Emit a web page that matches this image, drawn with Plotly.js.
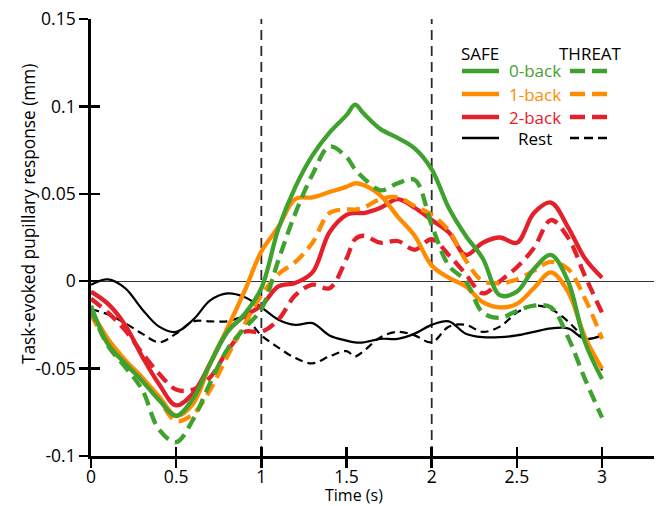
<!DOCTYPE html>
<html>
<head>
<meta charset="utf-8">
<script src="https://cdn.plot.ly/plotly-3.0.1.min.js"></script>
<style>html,body{margin:0;padding:0;background:#fff;}#chart{width:659px;height:506px;}</style>
</head>
<body>
<div id="chart"></div>
<script>
// ---- data ----
const time = [0,0.1,0.2,0.3,0.4,0.5,0.6,0.7,0.8,0.9,1.0,1.1,1.2,1.3,1.4,1.5,1.55,1.6,1.7,1.8,1.9,2.0,2.1,2.2,2.3,2.4,2.5,2.6,2.7,2.8,2.9,3.0];
const safe0back   = [-0.014,-0.036,-0.047,-0.057,-0.068,-0.077,-0.067,-0.047,-0.029,-0.019,-0.004,0.030,0.054,0.072,0.085,0.095,0.101,0.096,0.087,0.082,0.076,0.064,0.042,0.026,0.013,-0.008,-0.006,0.007,0.015,0.000,-0.035,-0.056];
const threat0back = [-0.016,-0.037,-0.049,-0.062,-0.085,-0.092,-0.079,-0.058,-0.039,-0.027,-0.016,0.012,0.039,0.061,0.077,0.071,0.064,0.059,0.052,0.056,0.058,0.032,0.009,0.000,-0.018,-0.021,-0.017,-0.014,-0.015,-0.032,-0.056,-0.078];
const safe1back   = [-0.017,-0.033,-0.045,-0.055,-0.066,-0.077,-0.070,-0.047,-0.027,-0.006,0.017,0.031,0.047,0.048,0.051,0.054,0.056,0.055,0.049,0.037,0.026,0.009,0.002,-0.003,-0.012,-0.015,-0.013,-0.004,0.005,-0.006,-0.032,-0.050];
const threat1back = [-0.019,-0.036,-0.047,-0.057,-0.068,-0.080,-0.076,-0.062,-0.043,-0.025,-0.008,0.004,0.011,0.022,0.039,0.041,0.041,0.042,0.047,0.048,0.043,0.038,0.029,0.012,0.000,-0.001,0.001,0.006,0.011,0.007,-0.010,-0.033];
const safe2back   = [-0.006,-0.013,-0.025,-0.043,-0.059,-0.071,-0.064,-0.047,-0.029,-0.020,-0.014,-0.003,-0.001,0.005,0.028,0.038,0.039,0.039,0.042,0.047,0.042,0.035,0.028,0.015,0.022,0.025,0.022,0.039,0.045,0.031,0.013,0.002];
const threat2back = [-0.010,-0.018,-0.028,-0.041,-0.053,-0.062,-0.062,-0.055,-0.040,-0.029,-0.029,-0.022,-0.008,-0.002,-0.004,0.013,0.024,0.026,0.022,0.023,0.018,0.024,0.015,0.004,-0.007,0.000,0.008,0.019,0.035,0.025,0.003,-0.018];
const safeRest    = [-0.002,0.001,-0.004,-0.016,-0.026,-0.029,-0.022,-0.011,-0.007,-0.009,-0.015,-0.022,-0.025,-0.024,-0.031,-0.034,-0.035,-0.035,-0.033,-0.033,-0.030,-0.025,-0.023,-0.030,-0.032,-0.032,-0.031,-0.029,-0.027,-0.027,-0.033,-0.031];
const threatRest  = [-0.016,-0.019,-0.024,-0.030,-0.035,-0.030,-0.023,-0.023,-0.023,-0.021,-0.031,-0.038,-0.044,-0.047,-0.043,-0.040,-0.043,-0.040,-0.032,-0.029,-0.031,-0.035,-0.026,-0.025,-0.029,-0.026,-0.018,-0.014,-0.016,-0.023,-0.034,-0.051];

const xTickVals = [0,0.5,1,1.5,2,2.5,3];
const xTickText = ["0","0.5","1","1.5","2","2.5","3"];
const yTickVals = [-0.1,-0.05,0,0.05,0.1,0.15];
const yTickText = ["-0.1","-0.05","0","0.05","0.1","0.15"];
const phaseMarks = [1,2];
const legendRows = ["0-back","1-back","2-back","Rest"];

// ---- styling ----
const GREEN = "#3fa22f", ORANGE = "#ff8b00", RED = "#e4202a", BLACK = "#000000";
const FONT = "Open Sans, Lato, sans-serif";
const COLOR_DASH = "13px,7px", BLACK_DASH = "8px,5px";

function tr(y, color, width, dash, overlay) {
  return {x: time, y: y, type: "scatter", mode: "lines",
    line: {color: color, width: width, dash: dash, shape: "spline", smoothing: 1},
    hoverinfo: "skip", showlegend: false, xaxis: overlay ? "x2" : "x", yaxis: overlay ? "y2" : "y"};
}
const traces = [
  tr(threatRest, BLACK, 2.2, BLACK_DASH),
  tr(safeRest, BLACK, 2.2, "solid"),
  tr(threat2back, RED, 4.3, COLOR_DASH),
  tr(safe2back, RED, 4.3, "solid"),
  tr(threat1back, ORANGE, 4.3, COLOR_DASH),
  tr(safe1back, ORANGE, 4.3, "solid"),
  // green traces on the overlay axes (top layer; those axes carry the inner half of the crossing ticks)
  tr(threat0back, GREEN, 4.3, COLOR_DASH, true),
  tr(safe0back, GREEN, 4.3, "solid", true)
];

const xRange = [0, 3.305], yRange = [-0.1, 0.15];

// plot-area pixel geometry for legend placement (paper coords)
const L = 91, R = 654, T = 19, B = 456;
const px = v => (v - L) / (R - L);
const py = v => (B - v) / (B - T);

const shapes = phaseMarks.map(v => ({type: "line", xref: "x", yref: "paper", x0: v, x1: v, y0: 0, y1: 1,
  line: {color: "#2a2a2a", width: 1.8, dash: "10px,6px"}, layer: "below"}));

const legendColors = [GREEN, ORANGE, RED, BLACK];
const legendY = [71, 94, 117, 138];
const annotations = [
  {text: "SAFE", x: px(480), y: py(54), xref: "paper", yref: "paper", showarrow: false, font: {family: FONT, size: 17, color: "#000"}, xanchor: "center", yanchor: "middle"},
  {text: "THREAT", x: px(590), y: py(54), xref: "paper", yref: "paper", showarrow: false, font: {family: FONT, size: 17, color: "#000"}, xanchor: "center", yanchor: "middle"},
  {text: "Time (s)", x: px(354), y: py(495), xref: "paper", yref: "paper", showarrow: false, font: {family: FONT, size: 16, color: "#000"}, xanchor: "center", yanchor: "middle", borderpad: 0},
  {text: "Task-evoked pupillary response (mm)", x: px(28), y: py(214), xref: "paper", yref: "paper", showarrow: false, textangle: -90, font: {family: FONT, size: 17.3, color: "#000"}, xanchor: "center", yanchor: "middle"}
];
legendRows.forEach((name, i) => {
  const c = legendColors[i], isRest = name === "Rest";
  annotations.push({text: name, x: px(535), y: py(legendY[i]), xref: "paper", yref: "paper", showarrow: false,
    font: {family: FONT, size: 17, color: c}, xanchor: "center", yanchor: "middle"});
  shapes.push({type: "line", xref: "paper", yref: "paper", x0: px(462), x1: px(499), y0: py(legendY[i]), y1: py(legendY[i]),
    line: {color: c, width: isRest ? 2.5 : 4.5}});
  shapes.push({type: "line", xref: "paper", yref: "paper", x0: px(570), x1: px(607), y0: py(legendY[i]), y1: py(legendY[i]),
    line: {color: c, width: isRest ? 2.5 : 4.5, dash: isRest ? "9px,5px" : "15px,7px"}});
});

const tickFont = {family: FONT, size: 17.5, color: "#000"};
const layout = {
  width: 659, height: 506,
  margin: {l: L, r: 659 - R, t: T, b: 506 - B},
  paper_bgcolor: "#fff", plot_bgcolor: "rgba(0,0,0,0)",
  showlegend: false,
  xaxis: {range: xRange, tickmode: "array", tickvals: xTickVals, ticktext: xTickText, ticks: "outside", ticklen: 9, tickwidth: 2.5, tickcolor: "#000",
    ticklabelstandoff: -6,
    showline: true, linecolor: "#000", linewidth: 2.8, showgrid: false, zeroline: false, tickfont: tickFont, fixedrange: true},
  yaxis: {range: yRange, tickmode: "array", tickvals: yTickVals, ticktext: yTickText, ticks: "outside", ticklen: 9, tickwidth: 2.5, tickcolor: "#000",
    showline: true, linecolor: "#000", linewidth: 2.8, showgrid: false, zeroline: true, zerolinecolor: "#333", zerolinewidth: 1, tickfont: tickFont, fixedrange: true},
  xaxis2: {overlaying: "x", anchor: "y2", range: xRange, tickmode: "array", tickvals: xTickVals, ticks: "inside", ticklen: 9, tickwidth: 2.5, tickcolor: "#000",
    showticklabels: false, showline: false, showgrid: false, zeroline: false, fixedrange: true},
  yaxis2: {overlaying: "y", anchor: "x2", range: yRange, tickmode: "array", tickvals: yTickVals, ticks: "inside", ticklen: 9, tickwidth: 2.5, tickcolor: "#000",
    showticklabels: false, showline: false, showgrid: false, zeroline: false, fixedrange: true},
  shapes: shapes,
  annotations: annotations
};
Plotly.newPlot("chart", traces, layout, {staticPlot: true, displayModeBar: false});
</script>
</body>
</html>
